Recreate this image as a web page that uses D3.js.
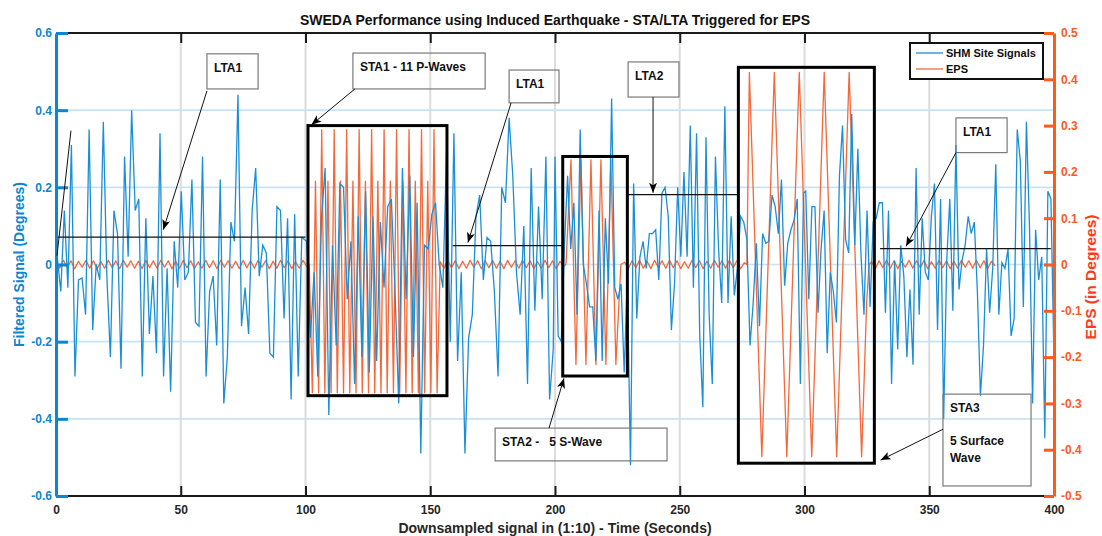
<!DOCTYPE html>
<html>
<head>
<meta charset="utf-8">
<script src="https://cdn.jsdelivr.net/npm/d3@7"></script>
<style>
  body { margin: 0; background: #fff; }
  svg { display: block; font-family: "Liberation Sans", Arial, sans-serif; font-weight: bold; }
</style>
</head>
<body>
<div id="viz"></div>
<script>
// SHM site signal (left axis) in four stretches
const shmA = [0.02, -0.07, 0.14, -0.06, 0.31, -0.29, -0.04, -0.035, -0.13, 0.35, -0.17, 0.0, -0.04, 0.37, -0.03, -0.24, 0.14, 0.08, -0.27, 0.28, 0.02, 0.40, 0.14, 0.17, -0.29, 0.12, -0.18, -0.03, -0.23, 0.34, -0.29, -0.01, -0.33, 0.06, -0.06, 0.19, -0.04, -0.02, 0.22, -0.15, -0.16, 0.28, -0.29, -0.07, -0.03, -0.21, 0.22, -0.36, -0.24, 0.11, 0.06, 0.44, -0.16, -0.06, -0.18, 0.14, 0.25, -0.03, 0.05, 0.03, -0.23, -0.24, 0.15, 0.14, -0.14, 0.12, -0.35, 0.13, -0.29, 0.07];
const shmB = [0.06, -0.19, -0.02, -0.29, 0.12, 0.25, -0.39, 0.05, -0.21, 0.21, 0.20, -0.09, 0.06, -0.31, 0.125, -0.24, 0.19, -0.28, 0.125, -0.25, 0.11, -0.06, 0.15, 0.17, -0.07, -0.36, 0.25, -0.09, 0.23, -0.24, 0.16, -0.49, 0.05, 0.04, 0.13, 0.16, 0.0, -0.06, 0.29, -0.20, 0.34, -0.25, -0.02, -0.49, -0.19, -0.13, 0.125, 0.18, -0.04, 0.07, 0.06, -0.07, -0.29, 0.20, 0.16, 0.38, 0.23, -0.02, -0.13, 0.10, -0.31, 0.25, -0.12, 0.15, -0.09, 0.28, -0.35, -0.22];
const shmC = [0.28, -0.185, -0.20, 0.05, 0.23, 0.04, 0.16, -0.13, 0.35, 0.0, -0.05, -0.11, -0.11, -0.25, 0.14, -0.25, 0.12, -0.05, 0.43, -0.06, -0.09, -0.05, -0.28, -0.03, -0.52, 0.21, -0.14, 0.02, 0.06, -0.01, 0.08, 0.08, 0.09, -0.04, 0.185, 0.20, 0.125, -0.17, -0.05, 0.20, 0.02, 0.24, 0.02, 0.36, -0.06, 0.34, -0.18, -0.37, 0.33, -0.13, -0.31, 0.28, 0.04, -0.10, 0.41, -0.10, 0.125, -0.08, -0.01, 0.125, 0.11, 0.065, -0.21, -0.10, 0.055, -0.16, 0.08, 0.055, 0.06, 0.18, 0.15, 0.08, 0.22, -0.055, 0.055, 0.09, 0.115, 0.17, -0.31, 0.185];
const shmD = [0.19, -0.09, 0.15, 0.15, -0.125, 0.04, 0.14, -0.23, -0.02, -0.07, -0.15, 0.23, 0.36, 0.065, 0.03, 0.39, 0.05, 0.30, 0.03, -0.13, 0.14, -0.11, 0.11, 0.12, 0.16, 0.16, -0.125, 0.14, -0.31, 0.01, -0.22, 0.05, -0.03, -0.24, -0.065, -0.26, 0.25, -0.13, 0.12, -0.02, -0.04, 0.125, 0.21, -0.17, 0.17, -0.40, 0.01, 0.17, -0.12, 0.31, -0.065, 0.01, 0.05, 0.125, 0.08, 0.11, -0.07, -0.34, -0.21, 0.04, -0.125, -0.01, 0.26, -0.13, 0.005, -0.01, 0.04, -0.185, -0.14, 0.35, 0.27, -0.11, 0.37, 0.10, -0.36, 0.09, -0.04, 0.02, -0.45, 0.19, 0.17, -0.25];

// EPS (right axis): quiet stretches and the three triggered wave trains
const epsQuiet1 = [0.004, -0.008, 0.009, -0.007, 0.008, -0.009, 0.007, -0.006, 0.009, -0.008, 0.008, -0.009, 0.006, -0.008, 0.009, -0.007, 0.008, -0.009, 0.009, -0.006, 0.008, -0.008, 0.007, -0.009, 0.009, -0.007, 0.008, -0.008, 0.009, -0.006, 0.008, -0.009, 0.007, -0.008, 0.009, -0.007, 0.008, -0.009, 0.006, -0.008, 0.009, -0.007, 0.008, -0.009, 0.009, -0.006, 0.008, -0.008, 0.007, -0.009, 0.009, -0.007, 0.008, -0.008, 0.009, -0.006, 0.008, -0.009, 0.007, -0.008, 0.009, -0.007, 0.008, -0.009, 0.006, -0.008, 0.009, -0.004];
const epsPWave = [0, -0.277, 0.18, -0.277, 0.291, -0.277, 0.18, -0.277, 0.291, -0.277, 0.18, -0.277, 0.291, -0.277, 0.18, -0.277, 0.291, -0.277, 0.18, -0.277, 0.291, -0.277, 0.18, -0.277, 0.291, -0.277, 0.18, -0.277, 0.291, -0.277, 0.18, -0.277, 0.291, -0.277, 0.18, -0.277, 0.291, -0.277, 0.18, -0.277, 0.291, -0.277];
const epsQuiet2 = [0.006, -0.008, 0.009, -0.007, 0.008, -0.009, 0.007, -0.008, 0.009, -0.006, 0.008, -0.009, 0.008, -0.007, 0.009, -0.008, 0.007, -0.009, 0.009, -0.006, 0.008, -0.008, 0.009, -0.007, 0.008, -0.009, 0.006, -0.008, 0.009, -0.007, 0.008, -0.009, 0.007, -0.004];
const epsSWave = [0, 0.226, -0.216, 0.226, -0.216, 0.226, -0.216, 0.226, -0.216, 0.226, -0.216, 0];
const epsQuiet3 = [0.005, -0.009, 0.008, -0.007, 0.009, -0.008, 0.007, -0.009, 0.009, -0.006, 0.008, -0.008, 0.009, -0.007, 0.008, -0.009, 0.006, -0.008, 0.009, -0.007, 0.008, -0.009, 0.007, -0.008, 0.009, -0.006, 0.008, -0.008, 0.009, -0.007, 0.008, -0.009, 0.004];
const epsSurface = [0,
  0.415, 0.25, 0.083, -0.083, -0.25, -0.415, -0.25, -0.083, 0.083, 0.25,
  0.415, 0.25, 0.083, -0.083, -0.25, -0.415, -0.25, -0.083, 0.083, 0.25,
  0.415, 0.25, 0.083, -0.083, -0.25, -0.415, -0.25, -0.083, 0.083, 0.25,
  0.415, 0.25, 0.083, -0.083, -0.25, -0.415, -0.25, -0.083, 0.083, 0.25,
  0.415, 0.25, 0.083, -0.083, -0.25, -0.415, -0.25, -0.083, 0];
const epsQuiet4 = [0.006, -0.009, 0.008, -0.007, 0.009, -0.008, 0.008, -0.009, 0.007, -0.006, 0.009, -0.008, 0.008, -0.007, 0.009, -0.009, 0.006, -0.008, 0.009, -0.007, 0.008, -0.009, 0.007, -0.008, 0.009, -0.006, 0.008, -0.008, 0.009, -0.007, 0.008, -0.009, 0.007, -0.003];

// LTA levels and STA windows (time in s, level on left axis)
const ltaFrom = [0, 159, 229.3, 330.3];
const ltaTo = [100, 203.2, 273.3, 398.7];
const ltaLevel = [0.071, 0.049, 0.181, 0.041];
const staFrom = [101, 203.1, 273.5];
const staTo = [156.7, 229, 328];
const staTop = [0.36, 0.28, 0.511];
const staBottom = [-0.34, -0.289, -0.515];

const xTicks = [0, 50, 100, 150, 200, 250, 300, 350, 400];
const leftTicks = [-0.6, -0.4, -0.2, 0, 0.2, 0.4, 0.6];
const rightTicks = [-0.5, -0.4, -0.3, -0.2, -0.1, 0, 0.1, 0.2, 0.3, 0.4, 0.5];

// callouts in data units: box [t0, t1, top, bottom], arrow [t, v] -> [t, v]
const callouts = [
  { lines: ["LTA1"], box: [60.5, 81.0, 0.546, 0.455], arrow: [60.5, 0.45, 43.0, 0.09] },
  { lines: ["STA1 - 11 P-Waves"], box: [119.0, 172.0, 0.548, 0.455], arrow: [119.8, 0.455, 102.4, 0.362] },
  { lines: ["LTA1"], box: [181.6, 201.6, 0.504, 0.419], arrow: [182.4, 0.419, 165.1, 0.057] },
  { lines: ["LTA2"], box: [229.3, 249.7, 0.525, 0.434], arrow: [239.3, 0.434, 239.3, 0.186] },
  { lines: ["LTA1"], box: [360.7, 381.2, 0.380, 0.290], arrow: [360.7, 0.290, 340.7, 0.047] },
  { lines: ["STA2 -   5 S-Wave"], box: [176.0, 244.9, -0.424, -0.509], arrow: [197.6, -0.424, 203.6, -0.295] },
  { lines: ["STA3", "", "5 Surface", "Wave"], box: [355.5, 390.8, -0.336, -0.574], arrow: [355.5, -0.427, 330.5, -0.507] }
];
const bareLine = [6.0, 0.347, 0.4, 0.023];

const blue = "#0b86d0", blueLine = "#1b8fd5", orange = "#ff5a1c", orangeLine = "#f4683a";

const width = 1102, height = 536;
const plot = { left: 56, right: 1054, top: 33, bottom: 496 };

const svg = d3.select("#viz").append("svg")
  .attr("width", width)
  .attr("height", height);

const x = d3.scaleLinear().domain([0, 400]).range([plot.left, plot.right]);
const yL = d3.scaleLinear().domain([-0.6, 0.6]).range([plot.bottom, plot.top]);
const yR = d3.scaleLinear().domain([-0.5, 0.5]).range([plot.bottom, plot.top]);

// spread each stretch evenly over its time span
function spread(values, from, to) {
  const step = (to - from) / (values.length - 1);
  return values.map((v, i) => ({ t: from + i * step, v }));
}
function stepped(values, start, step) {
  return values.map((v, i) => ({ t: start + i * step, v }));
}

const shm = [].concat(
  spread(shmA, 0.5, 98.5),
  spread(shmB, 100.5, 199.3),
  spread(shmC, 200, 299.6),
  spread(shmD, 300.5, 400)
);
const eps = [].concat(
  stepped(epsQuiet1, 0, 1.5),
  stepped(epsPWave, 101.5, 1.25),
  stepped(epsQuiet2, 154, 1.5),
  stepped(epsSWave, 204.4, 2),
  stepped(epsQuiet3, 227.9, 1.5),
  stepped(epsSurface, 276.9, 1),
  stepped(epsQuiet4, 326.9, 1.5)
);

const defs = svg.append("defs");
defs.append("clipPath").attr("id", "clip").append("rect")
  .attr("x", plot.left).attr("y", plot.top)
  .attr("width", plot.right - plot.left).attr("height", plot.bottom - plot.top);
defs.append("marker")
  .attr("id", "head")
  .attr("viewBox", "0 0 10 8")
  .attr("refX", 10).attr("refY", 4)
  .attr("markerWidth", 11).attr("markerHeight", 8)
  .attr("markerUnits", "userSpaceOnUse")
  .attr("orient", "auto")
  .append("path")
  .attr("d", "M0,0 L10,4 L0,8 L2.5,4 Z")
  .attr("fill", "#000");

// grid
svg.append("g").selectAll("line")
  .data(xTicks.slice(1, -1))
  .join("line")
  .attr("x1", d => x(d)).attr("x2", d => x(d))
  .attr("y1", plot.top).attr("y2", plot.bottom)
  .attr("stroke", "#dcdcdc").attr("stroke-width", 2);
svg.append("g").selectAll("line")
  .data(leftTicks.slice(1, -1))
  .join("line")
  .attr("x1", plot.left).attr("x2", plot.right)
  .attr("y1", d => yL(d)).attr("y2", d => yL(d))
  .attr("stroke", "#c8e3f5").attr("stroke-width", 1.6);

// data lines
const lines = svg.append("g").attr("clip-path", "url(#clip)");
lines.append("path")
  .datum(eps)
  .attr("d", d3.line().x(d => x(d.t)).y(d => yR(d.v)))
  .attr("fill", "none").attr("stroke", orangeLine).attr("stroke-width", 1.3)
  .attr("stroke-linejoin", "round");
lines.append("path")
  .datum(shm)
  .attr("d", d3.line().x(d => x(d.t)).y(d => yL(d.v)))
  .attr("fill", "none").attr("stroke", blueLine).attr("stroke-width", 1.3);

// LTA levels
svg.append("g").selectAll("line")
  .data(ltaLevel)
  .join("line")
  .attr("x1", (d, i) => x(ltaFrom[i])).attr("x2", (d, i) => x(ltaTo[i]))
  .attr("y1", d => yL(d)).attr("y2", d => yL(d))
  .attr("stroke", "#111").attr("stroke-width", 1.2);

// STA windows
svg.append("g").selectAll("rect")
  .data(staFrom)
  .join("rect")
  .attr("x", (d, i) => x(d))
  .attr("y", (d, i) => yL(staTop[i]))
  .attr("width", (d, i) => x(staTo[i]) - x(d))
  .attr("height", (d, i) => yL(staBottom[i]) - yL(staTop[i]))
  .attr("fill", "none").attr("stroke", "#000").attr("stroke-width", 3);

// frame: top and bottom in black
svg.append("line")
  .attr("x1", plot.left).attr("x2", plot.right).attr("y1", plot.top).attr("y2", plot.top)
  .attr("stroke", "#1a1a1a").attr("stroke-width", 2);
svg.append("line")
  .attr("x1", plot.left).attr("x2", plot.right).attr("y1", plot.bottom).attr("y2", plot.bottom)
  .attr("stroke", "#1a1a1a").attr("stroke-width", 2);

const fmt = d => d === 0 ? "0" : d.toFixed(1);

// bottom axis
const xAxis = svg.append("g")
  .attr("transform", `translate(0,${plot.bottom})`)
  .call(d3.axisBottom(x).tickValues(xTicks).tickSizeInner(-10).tickSizeOuter(0).tickPadding(9).tickFormat(d3.format("d")));
xAxis.select(".domain").remove();
xAxis.selectAll(".tick line").attr("stroke", "#1a1a1a").attr("stroke-width", 2)
  .attr("display", d => (d === 0 || d === 400) ? "none" : null);
xAxis.selectAll("text").attr("fill", "#262626").style("font-size", "12px");

// top axis (ticks only)
const topAxis = svg.append("g")
  .attr("transform", `translate(0,${plot.top})`)
  .call(d3.axisTop(x).tickValues(xTicks.slice(1, -1)).tickSizeInner(-10).tickSizeOuter(0).tickFormat(""));
topAxis.select(".domain").remove();
topAxis.selectAll(".tick line").attr("stroke", "#1a1a1a").attr("stroke-width", 2);

// left axis
const leftAxis = svg.append("g")
  .attr("transform", `translate(${plot.left},0)`)
  .call(d3.axisLeft(yL).tickValues(leftTicks).tickSizeInner(-12).tickSizeOuter(0).tickPadding(4).tickFormat(fmt));
leftAxis.select(".domain").attr("stroke", blue).attr("stroke-width", 3);
leftAxis.selectAll(".tick line").attr("stroke", blue).attr("stroke-width", 3);
leftAxis.selectAll("text").attr("fill", blue).style("font-size", "12px");

// right axis
const rightAxis = svg.append("g")
  .attr("transform", `translate(${plot.right},0)`)
  .call(d3.axisRight(yR).tickValues(rightTicks).tickSizeInner(-10).tickSizeOuter(0).tickPadding(7).tickFormat(fmt));
rightAxis.select(".domain").attr("stroke", orange).attr("stroke-width", 3);
rightAxis.selectAll(".tick line").attr("stroke", orange).attr("stroke-width", 3);
rightAxis.selectAll("text").attr("fill", orange).style("font-size", "12px");

// titles
svg.append("text")
  .attr("x", (plot.left + plot.right) / 2).attr("y", 25)
  .attr("text-anchor", "middle").style("font-size", "14px").attr("fill", "#111")
  .text("SWEDA Performance using Induced Earthquake - STA/LTA Triggered for EPS");
svg.append("text")
  .attr("x", (plot.left + plot.right) / 2).attr("y", 533)
  .attr("text-anchor", "middle").style("font-size", "14px").attr("fill", "#262626")
  .text("Downsampled signal in (1:10) - Time (Seconds)");
svg.append("text")
  .attr("transform", `translate(24,${yL(0)}) rotate(-90)`)
  .attr("text-anchor", "middle").style("font-size", "14px").attr("fill", blue)
  .text("Filtered Signal (Degrees)");
svg.append("text")
  .attr("transform", `translate(1096,277) rotate(-90)`)
  .attr("text-anchor", "middle").style("font-size", "15.5px").attr("fill", "#ff3a1c")
  .text("EPS (in Degrees)");

// legend
const legend = svg.append("g").attr("transform", "translate(910,43)");
legend.append("rect")
  .attr("width", 133).attr("height", 36)
  .attr("fill", "#fff").attr("stroke", "#111").attr("stroke-width", 2);
const legendItems = [["SHM Site Signals", blueLine], ["EPS", orangeLine]];
legendItems.forEach(([label, color], i) => {
  const yy = 10 + i * 16;
  legend.append("line")
    .attr("x1", 6).attr("x2", 33).attr("y1", yy).attr("y2", yy)
    .attr("stroke", color).attr("stroke-width", 1.3);
  legend.append("text")
    .attr("x", 36).attr("y", yy).attr("dy", "0.35em")
    .style("font-size", "11px").attr("fill", "#111")
    .text(label);
});

// callouts
const notes = svg.append("g");
callouts.forEach(c => {
  const [t0, t1, top, bottom] = c.box;
  notes.append("rect")
    .attr("x", x(t0)).attr("y", yL(top))
    .attr("width", x(t1) - x(t0)).attr("height", yL(bottom) - yL(top))
    .attr("fill", "none").attr("stroke", "#7a7a7a").attr("stroke-width", 1.2);
  c.lines.forEach((line, i) => {
    notes.append("text")
      .attr("x", x(t0) + 7).attr("y", yL(top) + 18 + i * 16.5)
      .style("font-size", "12px").style("white-space", "pre").attr("fill", "#111")
      .text(line);
  });
  const [ta, va, tb, vb] = c.arrow;
  notes.append("line")
    .attr("x1", x(ta)).attr("y1", yL(va)).attr("x2", x(tb)).attr("y2", yL(vb))
    .attr("stroke", "#111").attr("stroke-width", 1)
    .attr("marker-end", "url(#head)");
});
notes.append("line")
  .attr("x1", x(bareLine[0])).attr("y1", yL(bareLine[1]))
  .attr("x2", x(bareLine[2])).attr("y2", yL(bareLine[3]))
  .attr("stroke", "#111").attr("stroke-width", 1);
</script>
</body>
</html>
